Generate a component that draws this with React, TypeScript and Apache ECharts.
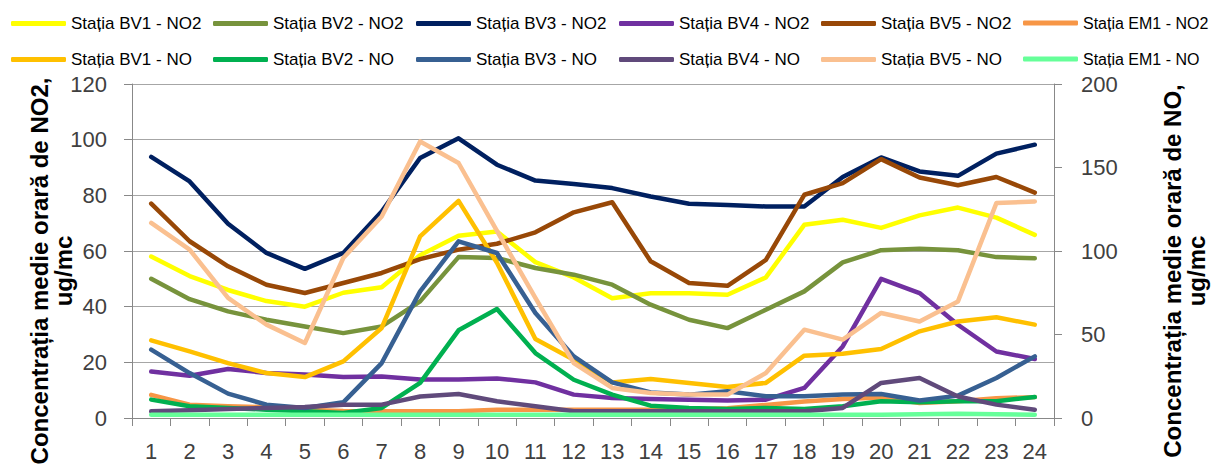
import React, { useEffect, useRef } from "react";
import * as echarts from "echarts";

const hours = ["1","2","3","4","5","6","7","8","9","10","11","12","13","14","15","16","17","18","19","20","21","22","23","24"];

const bv1No2 = [58, 51, 46, 42, 40, 45, 47, 58.5, 65.5, 67, 56, 50.5, 43, 44.8, 44.8, 44.3, 50.5, 69.4, 71.2, 68.3, 72.8, 75.6, 72, 65.8];
const bv2No2 = [50, 42.7, 38.3, 35.3, 32.9, 30.5, 32.9, 41.9, 57.8, 57.5, 53.9, 51.5, 47.9, 40.7, 35.3, 32.3, 38.9, 45.5, 55.9, 60.3, 60.8, 60.3, 57.8, 57.4];
const bv3No2 = [93.8, 85, 69.8, 59.3, 53.6, 59.3, 74.2, 93.4, 100.5, 91, 85.3, 84.1, 82.6, 79.6, 77, 76.5, 76, 76, 86.6, 93.6, 88.6, 87, 95, 98.2];
const bv4No2 = [16.7, 15.2, 17.6, 16.2, 15.6, 14.7, 14.9, 13.8, 13.8, 14.2, 12.8, 8.4, 7.2, 6.8, 6.6, 6.3, 6.6, 10.8, 25.7, 50, 44.9, 33.5, 23.9, 21.2];
const bv5No2 = [77, 63.5, 54.5, 47.9, 44.9, 48.5, 52.1, 57.1, 60.5, 62.6, 66.7, 73.9, 77.5, 56.3, 48.5, 47.5, 56.8, 80.2, 84.4, 93, 86.4, 83.6, 86.6, 81];
const em1No2 = [8.3, 4.8, 4.2, 3.9, 3, 2.5, 2.4, 2.4, 2.4, 3, 3, 3, 3, 3, 3.1, 3.5, 4.7, 5.9, 6.8, 7.4, 5.4, 6, 7.1, 7.5];

const bv1No = [46.5, 39.9, 32.9, 26.9, 24.5, 33.9, 53.9, 108.7, 130, 93, 47.3, 34.9, 21.3, 23.3, 21, 18.6, 21, 37.3, 38.5, 41.3, 51.9, 57.8, 60.3, 55.9];
const bv2No = [11, 7, 6, 5, 4, 3, 6, 21, 52.5, 65.3, 38.9, 22.9, 14, 7.4, 6, 5.4, 6, 5.4, 7, 10, 9.4, 10, 10, 12.6];
const bv3No = [40.9, 26.9, 14.6, 8, 6, 9.4, 32.9, 75.8, 105.8, 98.8, 62.9, 36.9, 21.3, 15.3, 14, 16, 13, 13, 14, 14.4, 10.5, 13.4, 24, 36.9];
const bv4No = [4, 4.6, 5.4, 6, 6.6, 8, 8, 12.9, 14.4, 10, 7, 4, 4, 4, 4, 4, 4, 4, 6, 21, 24, 12.9, 8, 5];
const bv5No = [116.8, 100.8, 71.9, 55.9, 44.9, 95.8, 120.7, 165.6, 152.7, 112, 72, 32.9, 18, 15, 14, 14, 26.9, 52.9, 46.9, 62.9, 57.8, 69.8, 128.7, 129.7];
const em1No = [2, 2, 2, 2, 2, 2, 2, 2, 2, 2, 2, 2, 2, 2, 2, 2, 2, 2, 2, 2, 2.3, 2.6, 2.2, 2];

const seriesNames = [
  "Stația BV1 - NO2", "Stația BV2 - NO2", "Stația BV3 - NO2", "Stația BV4 - NO2", "Stația BV5 - NO2", "Stația EM1 - NO2",
  "Stația BV1 - NO", "Stația BV2 - NO", "Stația BV3 - NO", "Stația BV4 - NO", "Stația BV5 - NO", "Stația EM1 - NO",
];
const seriesData = [bv1No2, bv2No2, bv3No2, bv4No2, bv5No2, em1No2, bv1No, bv2No, bv3No, bv4No, bv5No, em1No];
const seriesColors = [
  "#FFFF00", "#77933C", "#002060", "#7030A0", "#984807", "#F79646",
  "#FFC000", "#00B050", "#376092", "#604A7B", "#FAC090", "#66FF99",
];

const leftTicks = { min: 0, max: 120, interval: 20 };
const rightTicks = { min: 0, max: 200, interval: 50 };

const FONT = "'Liberation Sans', Arial, sans-serif";

export default function App() {
  const ref = useRef<HTMLDivElement>(null);
  useEffect(() => {
    if (!ref.current) return;
    const chart = echarts.init(ref.current, null, { renderer: "svg" });
    const colX = [11, 213, 416, 619, 821, 1023];
    const rowY = [20, 56];
    const legends = seriesNames.map((name, i) => ({
      data: [name],
      left: colX[i % 6] - 5,
      top: rowY[Math.floor(i / 6)] - 10,
      icon: "roundRect",
      itemWidth: 55,
      itemHeight: 5,
      textStyle: { fontFamily: FONT, fontSize: i % 6 === 5 ? 16 : 17, color: "#000" },
      selectedMode: false,
    }));
    const series = seriesNames.map((name, i) => ({
      name,
      type: "line",
      yAxisIndex: i < 6 ? 0 : 1,
      data: seriesData[i],
      symbol: "none",
      color: seriesColors[i],
      lineStyle: { width: 4.5, color: seriesColors[i], cap: "round", join: "round" },
      itemStyle: { color: seriesColors[i] },
    }));
    chart.setOption({
      animation: false,
      backgroundColor: "#fff",
      legend: legends,
      grid: { left: 132, right: 165, top: 84, bottom: 50, containLabel: false },
      xAxis: {
        type: "category",
        data: hours,
        boundaryGap: true,
        axisLine: { lineStyle: { color: "#888", width: 1 } },
        axisTick: { show: true, length: 8, inside: false, alignWithLabel: false, lineStyle: { color: "#888" } },
        axisLabel: { fontFamily: FONT, fontSize: 22, color: "#404040", margin: 22 },
        splitLine: { show: false },
      },
      yAxis: [
        {
          type: "value",
          ...leftTicks,
          position: "left",
          axisLine: { show: true, lineStyle: { color: "#888" } },
          axisTick: { show: true, length: 8, lineStyle: { color: "#888" } },
          axisLabel: { fontFamily: FONT, fontSize: 22, color: "#404040", margin: 25 },
          splitLine: { show: true, lineStyle: { color: "#A6A6A6", width: 1 } },
        },
        {
          type: "value",
          ...rightTicks,
          position: "right",
          axisLine: { show: true, lineStyle: { color: "#888" } },
          axisTick: { show: true, length: 8, lineStyle: { color: "#888" } },
          axisLabel: { fontFamily: FONT, fontSize: 22, color: "#404040", margin: 27 },
          splitLine: { show: false },
        },
      ],
      graphic: [
        {
          type: "text",
          x: 51,
          y: 271,
          rotation: Math.PI / 2,
          style: {
            text: "Concentrația medie orară de NO2,\nug/mc",
            font: `bold 24px ${FONT}`,
            fill: "#000",
            align: "center",
            verticalAlign: "middle",
            lineHeight: 24,
          },
        },
        {
          type: "text",
          x: 1184,
          y: 271,
          rotation: Math.PI / 2,
          style: {
            text: "Concentrația medie orară de NO,\nug/mc",
            font: `bold 24px ${FONT}`,
            fill: "#000",
            align: "center",
            verticalAlign: "middle",
            lineHeight: 24,
          },
        },
      ],
      series,
    });
    return () => chart.dispose();
  }, []);
  return (
    <div
      ref={ref}
      style={{ position: "absolute", left: 0, top: 0, width: 1219, height: 468, background: "#fff" }}
    />
  );
}
